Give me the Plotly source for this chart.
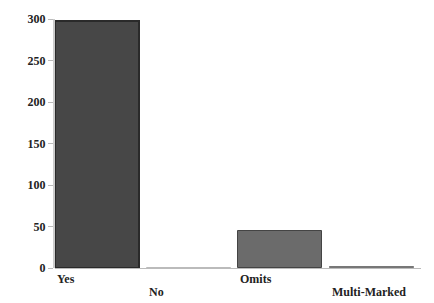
import plotly.graph_objects as go

categories = ["Yes", "No", "Omits", "Multi-Marked"]
counts = [298, 0, 45, 1]
bar_colors = ["#474747", "#5a5a5a", "#6b6b6b", "#555555"]
y_ticks = [0, 50, 100, 150, 200, 250, 300]
y_tick_labels = ["0", "50", "100", "150", "200", "250", "300"]

positions = list(range(len(categories)))

fig = go.Figure()
fig.add_trace(go.Bar(
    x=positions, y=counts, offset=0, width=0.92,
    marker=dict(color=bar_colors,
                line=dict(color=["#2a2a2a", "#bbbbbb", "#444444", "#777777"],
                          width=[2, 1, 1, 1])),
    showlegend=False, hoverinfo="skip",
))

for i, cat in enumerate(categories):
    fig.add_annotation(
        x=i, y=0, xref="x", yref="y", text="<b>" + cat + "</b>", showarrow=False,
        xanchor="left", yanchor="top", yshift=-2 if i % 2 == 0 else -15,
        font=dict(family="Liberation Serif", size=12, color="#222222"),
    )

fig.update_xaxes(
    range=[0, 4], showticklabels=False, showgrid=False, zeroline=False,
    showline=False,
)
fig.update_yaxes(
    range=[0, 300], tickvals=y_ticks, ticktext=["<b>%s</b>" % t for t in y_tick_labels],
    showgrid=False,
    zeroline=True, zerolinecolor="#bbbbbb", zerolinewidth=1,
    showline=True, linecolor="#cccccc", linewidth=2, ticks="outside",
    ticklen=5, tickcolor="#bbbbbb",
    tickfont=dict(family="Liberation Serif", size=12, color="#222222"),
)
fig.update_layout(
    width=434, height=303, margin=dict(l=55, r=13, t=16, b=35),
    paper_bgcolor="white", plot_bgcolor="white", bargap=0,
)
fig.write_html("out.html", post_script="document.body.style.margin='0';",
               config={"displayModeBar": False})
